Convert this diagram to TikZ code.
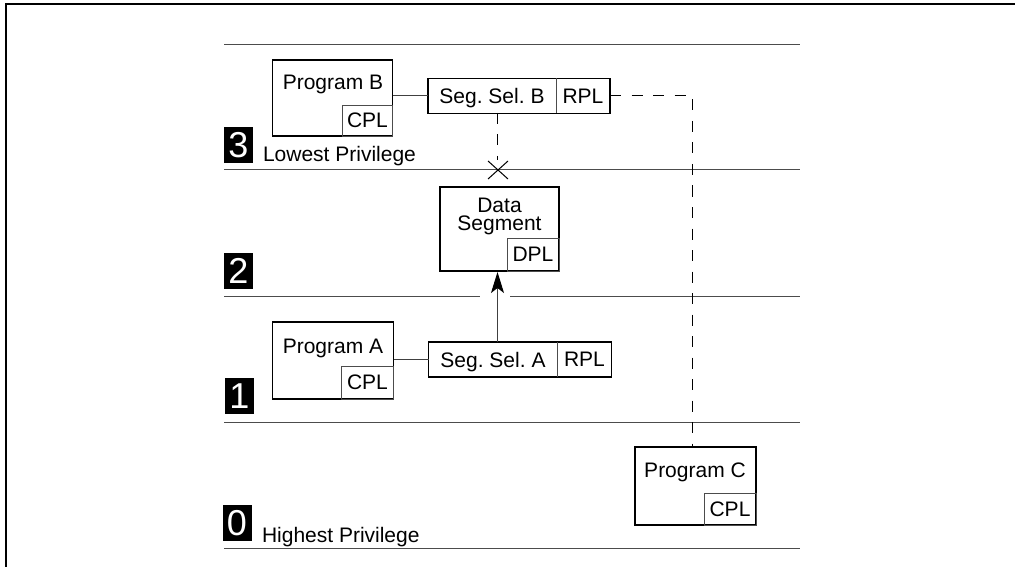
\documentclass[tikz,border=0pt]{standalone}
\usepackage{fontspec}
\setmainfont{Liberation Sans}
\usetikzlibrary{arrows.meta}
\tikzset{
  x=1pt,y=-1pt,
  rule/.style={draw=black!70,line width=1pt},
  box/.style={draw=black,line width=1.5pt,inner sep=0pt,outer sep=0pt,anchor=north west},
  cell/.style={draw=black!70,line width=0.8pt,inner sep=0pt,outer sep=0pt,anchor=south east,font=\fontsize{21}{21}\selectfont},
  txt/.style={inner sep=0pt,outer sep=0pt,font=\fontsize{21}{18}\selectfont\frenchspacing,align=center},
  ring/.style={fill=black,text=white,inner sep=0pt,minimum width=29pt,minimum height=36pt,font=\fontsize{36}{36}\selectfont},
  solidlink/.style={draw=black!75,line width=1pt},
  dashlink/.style={draw=black,line width=1pt,dash pattern=on 11pt off 10.5pt},
}
\begin{document}
\begin{tikzpicture}
\useasboundingbox (0,0) rectangle (1015,567);
% frame
\coordinate (fa) at (5.5,567);
\coordinate (fb) at (5.5,4.5);
\coordinate (fc) at (1015,4.5);
\draw[black,line width=2pt] (fa) -- (fb) -- (fc);
% rules
\coordinate (r1a) at (224,45); \coordinate (r1b) at (800,45);
\coordinate (r2a) at (224,170); \coordinate (r2b) at (800,170);
\coordinate (r3a) at (224,296); \coordinate (r3b) at (480,296);
\coordinate (r3c) at (510,296); \coordinate (r3d) at (800,296);
\coordinate (r4a) at (224,422); \coordinate (r4b) at (800,422);
\coordinate (r5a) at (224,548); \coordinate (r5b) at (800,548);
\draw[rule] (r1a) -- (r1b);
\draw[rule] (r2a) -- (r2b);
\draw[rule] (r3a) -- (r3b);
\draw[rule] (r3c) -- (r3d);
\draw[rule] (r4a) -- (r4b);
\draw[rule] (r5a) -- (r5b);
% ring numbers
\node[ring] (n3) at (238.5,145) {3};
\node[ring] (n2) at (238.5,271) {2};
\node[ring] (n1) at (239.5,396) {1};
\node[ring] (n0) at (237,523) {0};
\node[txt,anchor=base west] (low) at (263,162) {Lowest Privilege};
\node[txt,anchor=base west] (high) at (262,542) {Highest Privilege};
% program B
\node[box,minimum width=120pt,minimum height=76pt] (pb) at (272.5,60) {};
\node[txt] (pbt) at (333,84) {Program B};
\node[cell,minimum width=50pt,minimum height=31pt] (pbc) at (pb.south east) {CPL};
% selector B
\node[box,minimum width=182pt,minimum height=35pt] (sb) at (428,78.5) {};
\node[txt] (sbt) at (492,98) {Seg. Sel. B};
\node[cell,minimum width=54pt,minimum height=35pt,draw=none] (sbr) at (sb.south east) {RPL};
\draw[draw=black!70,line width=0.8pt] (sbr.north west) -- (sbr.south west);
% data segment
\node[box,minimum width=119pt,minimum height=84pt] (ds) at (440,187) {};
\node[txt] (dst) at (499.5,216) {Data\\Segment};
\node[cell,minimum width=52pt,minimum height=33pt] (dsc) at (ds.south east) {DPL};
% program A
\node[box,minimum width=121pt,minimum height=77pt] (pa) at (272.5,322) {};
\node[txt] (pat) at (333,348) {Program A};
\node[cell,minimum width=52pt,minimum height=33pt] (pac) at (pa.south east) {CPL};
% selector A
\node[box,minimum width=183pt,minimum height=35pt] (sa) at (428.5,342) {};
\node[txt] (sat) at (493,362) {Seg. Sel. A};
\node[cell,minimum width=54pt,minimum height=35pt,draw=none] (sar) at (sa.south east) {RPL};
\draw[draw=black!70,line width=0.8pt] (sar.north west) -- (sar.south west);
% program C
\node[box,minimum width=121pt,minimum height=78pt] (pc) at (635,447) {};
\node[txt] (pct) at (695,472) {Program C};
\node[cell,minimum width=52pt,minimum height=32pt] (pcc) at (pc.south east) {CPL};
% connectors
\draw[solidlink] (pb.east |- sb.west) -- (sb.west);
\draw[solidlink] (pa.east |- sa.west) -- (sa.west);
\coordinate (at) at (497.5,272);
\coordinate (ab) at (497.5,342);
\coordinate (db) at (497.5,113);
\coordinate (dc) at (497.5,160);
\coordinate (tu) at (692.5,96);
\draw[dashlink] (db) -- (dc);
\draw[dashlink] (sb.east) -- (tu) -- (tu |- pc.north);
\draw[solidlink,-{Stealth[length=21pt,width=13pt,inset=5pt,black]}] (ab) -- (at);
\coordinate (x1) at (488,161); \coordinate (x2) at (508,179);
\coordinate (x3) at (488,179); \coordinate (x4) at (508,161);
\draw[black,line width=1pt] (x1) -- (x2);
\draw[black,line width=1pt] (x3) -- (x4);
\end{tikzpicture}
\end{document}
